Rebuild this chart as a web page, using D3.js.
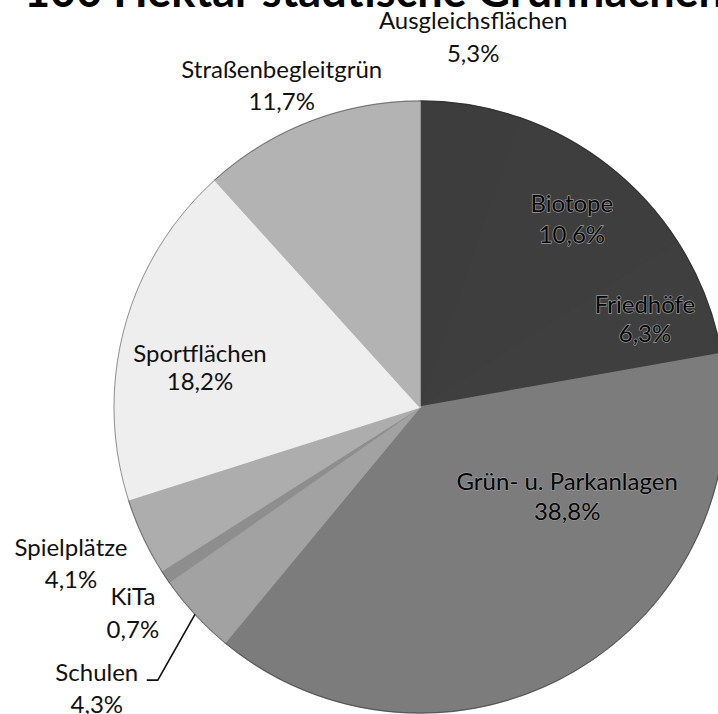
<!DOCTYPE html>
<html>
<head>
<meta charset="utf-8">
<script src="https://cdn.jsdelivr.net/npm/d3@7"></script>
<style>
  html, body { margin: 0; padding: 0; background: #fff; }
  svg { display: block; }
  text { font-family: Lato, "Open Sans", sans-serif; }
</style>
</head>
<body>
<svg id="chart" width="718" height="714"></svg>
<script>
// ---- data ----
const title = "100 Hektar städtische Grünflächen";
const categories = ["Ausgleichsflächen", "Biotope", "Friedhöfe", "Grün- u. Parkanlagen",
                    "Schulen", "KiTa", "Spielplätze", "Sportflächen", "Straßenbegleitgrün"];
const values = [5.3, 10.6, 6.3, 38.8, 4.3, 0.7, 4.1, 18.2, 11.7];
const valueLabels = ["5,3%", "10,6%", "6,3%", "38,8%", "4,3%", "0,7%", "4,1%", "18,2%", "11,7%"];

// ---- styling / layout (not data) ----
const fills = ["#3d3d3d", "#3e3e3e", "#3f3f3f", "#7c7c7c", "#a2a2a2", "#8e8e8e", "#adadad", "#eeeeee", "#b3b3b3"];
// label placement: angle (deg, clockwise from 12 o'clock), radius factor, inside flag, line gap
const labelPlace = [
  {a: 8.0,   k: 1.248, inside: false, gap: 33},
  {a: 37.9,  k: 0.808, inside: true,  gap: 31},
  {a: 67.3,  k: 0.797, inside: true,  gap: 29},
  {a: 119.4, k: 0.552, inside: true,  gap: 30},
  {a: 229.7, k: 1.385, inside: false, gap: 32},
  {a: 235.4, k: 1.140, inside: false, gap: 33},
  {a: 246.9, k: 1.240, inside: false, gap: 32},
  {a: 281.6, k: 0.734, inside: false, gap: 28},
  {a: 337.2, k: 1.166, inside: false, gap: 32}
];

const svg = d3.select("#chart");
const cx = 420, cy = 407, R = 306;

const data = categories.map((c, i) => ({name: c, value: values[i], label: valueLabels[i], fill: fills[i], place: labelPlace[i]}));

const pie = d3.pie().value(d => d.value).sort(null).startAngle(0).endAngle(2 * Math.PI);
const arcs = pie(data);
const arc = d3.arc().innerRadius(0).outerRadius(R);

const g = svg.append("g").attr("transform", `translate(${cx},${cy})`);

g.selectAll("path.slice")
  .data(arcs)
  .enter().append("path")
  .attr("class", "slice")
  .attr("d", arc)
  .attr("fill", d => d.data.fill)
  .attr("stroke", d => d.data.fill)
  .attr("stroke-width", 1.5)
  .attr("stroke-linejoin", "round");

// faint outer rim
g.append("circle").attr("r", R).attr("fill", "none").attr("stroke", "#222").attr("stroke-width", 1).attr("opacity", 0.45);

// leader line for Schulen
const schulen = arcs[4];
const midA = (schulen.startAngle + schulen.endAngle) / 2;
const edge = [Math.sin(midA) * R, -Math.cos(midA) * R];
const lp = labelPlace[4];
const la = lp.a * Math.PI / 180;
const lx = Math.sin(la) * R * lp.k, ly = -Math.cos(la) * R * lp.k;
g.append("path")
  .attr("d", d3.line()([[lx + 50, ly - 1], [lx + 61, ly - 1], edge]))
  .attr("fill", "none").attr("stroke", "#111").attr("stroke-width", 1.6);

// labels
g.selectAll("text.lbl")
  .data(arcs)
  .enter().append("text")
  .attr("class", "lbl")
  .attr("text-anchor", "middle")
  .attr("font-size", 24)
  .attr("fill", "#111")
  .each(function(d) {
    const p = d.data.place;
    const a = p.a * Math.PI / 180;
    const x = Math.sin(a) * R * p.k, y = -Math.cos(a) * R * p.k;
    const t = d3.select(this).attr("x", x).attr("y", y);
    if (p.inside) {
      t.attr("stroke", "#9a9a9a").attr("stroke-width", 1.4).attr("paint-order", "stroke").attr("fill", "#050505");
    }
    t.append("tspan").attr("x", x).attr("y", y).text(d.data.name);
    t.append("tspan").attr("x", x).attr("y", y + p.gap).text(d.data.label);
  });

// title (cut off at the top edge)
svg.append("text")
  .attr("x", 24).attr("y", 7)
  .attr("font-size", 46).attr("font-weight", "bold")
  .attr("fill", "#000")
  .attr("textLength", 700).attr("lengthAdjust", "spacingAndGlyphs")
  .text(title);
</script>
</body>
</html>
